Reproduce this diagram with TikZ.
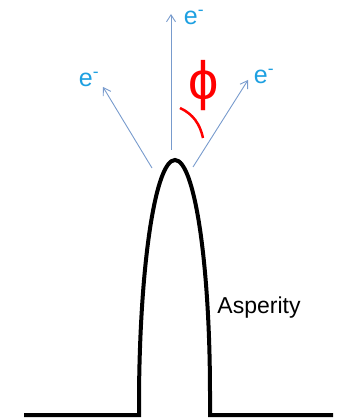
\documentclass[tikz,border=0pt]{standalone}
\usepackage{fontspec}
\setmainfont{Liberation Sans}
\usetikzlibrary{arrows.meta}
\definecolor{raycol}{RGB}{120,155,205}
\definecolor{elecol}{RGB}{30,160,225}
\begin{document}
\begin{tikzpicture}[x=1pt,y=-1pt,>={Straight Barb[length=7pt,width=9pt]},
  ray/.style={->,draw=raycol,line width=0.9pt},
  elec/.style={text=elecol,inner sep=0pt,font=\fontsize{25}{28}\selectfont},
  profile/.style={line width=4pt,line join=miter}]
  \useasboundingbox (0,0) rectangle (340,419);
  % surface with the asperity
  \draw[profile] (24,415) -- (139,415) -- (139,395)
    .. controls (140,260) and (156,160) .. (175,160)
    .. controls (194,160) and (210,260) .. (210,395) -- (210,415) -- (333,415);
  \node[inner sep=0pt,font=\fontsize{23}{26}\selectfont] (asp) at (259,308) {Asperity};
  % emitted electrons
  \coordinate (lsrc) at (152,168);
  \coordinate (msrc) at (171,150);
  \coordinate (rsrc) at (193,167);
  \coordinate (lend) at (103,87);
  \coordinate (mend) at (171,14);
  \coordinate (rend) at (248,80);
  \draw[ray] (lsrc) -- (lend);
  \draw[ray] (msrc) -- (mend);
  \draw[ray] (rsrc) -- (rend);
  \node[elec] (le) at (89,79) {e\textsuperscript{-}};
  \node[elec] (me) at (194,17) {e\textsuperscript{-}};
  \node[elec] (re) at (264,76) {e\textsuperscript{-}};
  % angle
  \node[text=red,inner sep=0pt,font=\fontsize{54}{56}\selectfont] (phi) at (204,86) {\char"03D5};
  \coordinate (arcA) at (180,108);
  \coordinate (arcB) at (203,138);
  \draw[red,line width=2.5pt] (arcA) .. controls (193,114) and (200,124) .. (arcB);
\end{tikzpicture}
\end{document}
